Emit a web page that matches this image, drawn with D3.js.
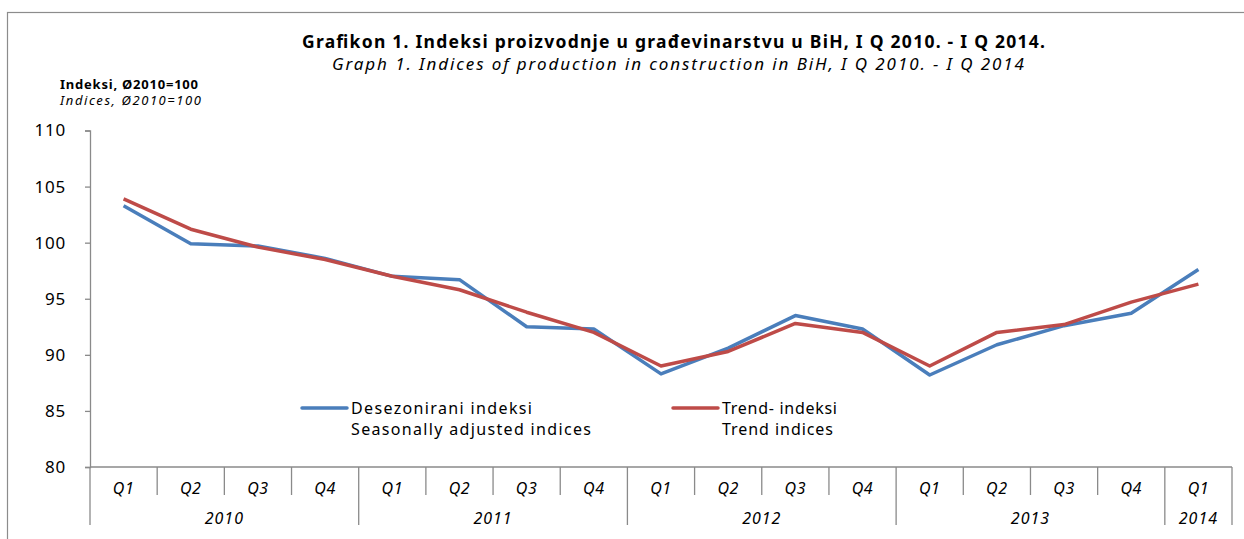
<!DOCTYPE html>
<html>
<head>
<meta charset="utf-8">
<script src="https://cdn.jsdelivr.net/npm/d3@7"></script>
<style>
  body { margin: 0; background: #fff; }
  text { font-family: "Noto Sans", "Open Sans", sans-serif; fill: #000; }
</style>
</head>
<body>
<script>
var quarters = ['Q1','Q2','Q3','Q4','Q1','Q2','Q3','Q4','Q1','Q2','Q3','Q4','Q1','Q2','Q3','Q4','Q1'];
var years = ['2010','2011','2012','2013','2014'];
var yearCounts = [4, 4, 4, 4, 1];
var seasonal = [103.3, 99.9, 99.7, 98.6, 97.0, 96.7, 92.5, 92.3, 88.3, 90.6, 93.5, 92.3, 88.2, 90.9, 92.6, 93.7, 97.6];
var trend = [103.9, 101.2, 99.6, 98.5, 97.0, 95.8, 93.8, 92.0, 89.0, 90.3, 92.8, 92.0, 89.0, 92.0, 92.7, 94.7, 96.3];
var yTicks = [80, 85, 90, 95, 100, 105, 110];

var W = 1244, H = 539;
var svg = d3.select('body')
    .append('svg')
    .attr('width', W)
    .attr('height', H)

// outer frame
svg.append('rect')
    .attr('x', 7.5).attr('y', 12.5)
    .attr('width', 1250).attr('height', 560)
    .attr('fill', 'none')
    .attr('stroke', '#8c8c8c')
    .attr('stroke-width', 1.2)

var x = d3.scaleBand()
    .domain(d3.range(quarters.length))
    .range([90, 1232])
    .padding(0)

var y = d3.scaleLinear()
    .domain([80, 110])
    .range([467, 130.5])

var axisColor = '#8a8a8a';

// y axis
var yAxis = svg.append('g')
    .attr('transform', 'translate(90,0)')
    .call(d3.axisLeft(y).tickValues(yTicks).tickSize(5).tickPadding(19))
yAxis.select('.domain').attr('stroke', axisColor).attr('stroke-width', 1.3)
yAxis.selectAll('.tick line').attr('stroke', axisColor).attr('stroke-width', 1.3)
yAxis.selectAll('.tick text')
    .style('font-size', '17px')
    .style('font-family', '"Noto Sans", sans-serif')
    .style('letter-spacing', '0.8px')
    .attr('fill', '#000')

// x axis baseline
svg.append('line')
    .attr('x1', 90).attr('x2', 1232)
    .attr('y1', y(80)).attr('y2', y(80))
    .attr('stroke', axisColor).attr('stroke-width', 1.3)

// separators
var yearStarts = [];
var acc = 0;
yearCounts.forEach(function (c) { yearStarts.push(acc); acc += c; });

var bounds = d3.range(quarters.length + 1);
svg.selectAll('.sep')
    .data(bounds)
    .enter()
    .append('line')
    .attr('class', 'sep')
    .attr('x1', d => d < quarters.length ? x(d) : x.range()[1])
    .attr('x2', d => d < quarters.length ? x(d) : x.range()[1])
    .attr('y1', y(80))
    .attr('y2', d => (yearStarts.indexOf(d) >= 0 || d === quarters.length) ? 525 : 495)
    .attr('stroke', axisColor).attr('stroke-width', 1.3)

svg.selectAll('.qlab')
    .data(quarters)
    .enter()
    .append('text')
    .attr('class', 'qlab')
    .attr('x', (d, i) => x(i) + x.bandwidth() / 2)
    .attr('y', 494)
    .attr('text-anchor', 'middle')
    .style('font-size', '16px')
    .style('font-style', 'italic')
    .style('letter-spacing', '0.6px')
    .text(d => d)

svg.selectAll('.ylab')
    .data(years)
    .enter()
    .append('text')
    .attr('class', 'ylab')
    .attr('x', (d, i) => x(yearStarts[i]) + x.bandwidth() * yearCounts[i] / 2)
    .attr('y', 524)
    .attr('text-anchor', 'middle')
    .style('font-size', '16px')
    .style('font-style', 'italic')
    .style('letter-spacing', '1px')
    .text(d => d)

// lines
var line = d3.line()
    .x((d, i) => x(i) + x.bandwidth() / 2)
    .y(d => y(d))

svg.append('path')
    .datum(seasonal)
    .attr('d', line)
    .attr('fill', 'none')
    .attr('stroke', '#4a7ebb')
    .attr('stroke-width', 3.5)
    .attr('stroke-linejoin', 'round')

svg.append('path')
    .datum(trend)
    .attr('d', line)
    .attr('fill', 'none')
    .attr('stroke', '#be4b48')
    .attr('stroke-width', 3.5)
    .attr('stroke-linejoin', 'round')

// legend
var legend = [
  {x: 302, color: '#4a7ebb', l1: 'Desezonirani indeksi', w1: 181, l2: 'Seasonally adjusted indices', w2: 240},
  {x: 673, color: '#be4b48', l1: 'Trend- indeksi', w1: 115, l2: 'Trend indices', w2: 111}
];
var lg = svg.selectAll('.leg')
    .data(legend)
    .enter()
    .append('g')
    .attr('class', 'leg')
lg.append('line')
    .attr('x1', d => d.x).attr('x2', d => d.x + 45)
    .attr('y1', 408).attr('y2', 408)
    .attr('stroke', d => d.color)
    .attr('stroke-width', 3.5)
    .attr('stroke-linecap', 'round')
lg.append('text')
    .attr('x', d => d.x + 49).attr('y', 414)
    .attr('textLength', d => d.w1)
    .attr('lengthAdjust', 'spacing')
    .style('font-size', '16px')
    .text(d => d.l1)
lg.append('text')
    .attr('x', d => d.x + 49).attr('y', 435)
    .attr('textLength', d => d.w2)
    .attr('lengthAdjust', 'spacing')
    .style('font-size', '16px')
    .text(d => d.l2)

// titles
svg.append('text')
    .attr('x', 302).attr('y', 48)
    .attr('textLength', 743)
    .attr('lengthAdjust', 'spacing')
    .style('font-size', '17.5px')
    .style('font-weight', 'bold')
    .text('Grafikon 1. Indeksi proizvodnje u građevinarstvu u  BiH, I Q 2010.  - I Q 2014.')
svg.append('text')
    .attr('x', 332).attr('y', 70)
    .attr('textLength', 692)
    .attr('lengthAdjust', 'spacing')
    .style('font-size', '17px')
    .style('font-style', 'italic')
    .text('Graph 1.  Indices of production in construction in BiH, I Q 2010.  - I Q 2014')

svg.append('text')
    .attr('x', 60).attr('y', 89)
    .attr('textLength', 138)
    .attr('lengthAdjust', 'spacing')
    .style('font-size', '13px')
    .style('font-weight', 'bold')
    .text('Indeksi, Ø2010=100')
svg.append('text')
    .attr('x', 60).attr('y', 105)
    .attr('textLength', 141)
    .attr('lengthAdjust', 'spacing')
    .style('font-size', '13px')
    .style('font-style', 'italic')
    .text('Indices, Ø2010=100')
</script>
</body>
</html>
